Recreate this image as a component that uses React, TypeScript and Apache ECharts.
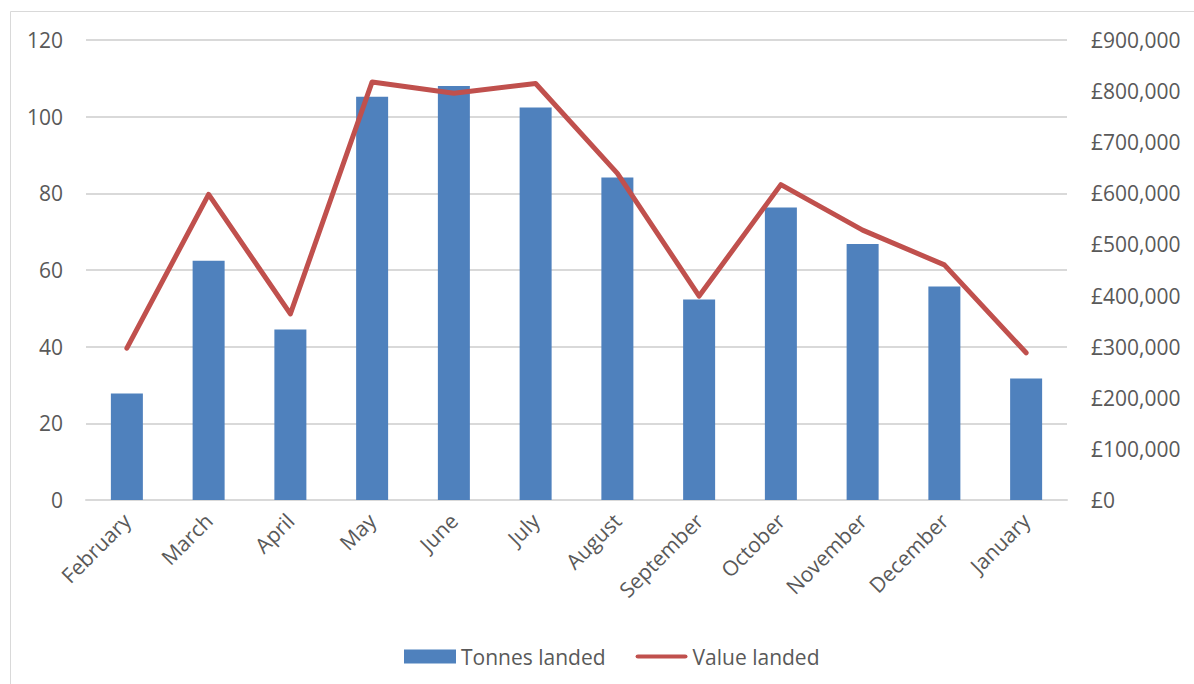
import React, { useEffect, useRef } from "react";
import * as echarts from "echarts";

const months = ["February", "March", "April", "May", "June", "July", "August", "September", "October", "November", "December", "January"];
const tonnesLanded = [27.8, 62.4, 44.5, 105.2, 108, 102.4, 84.1, 52.3, 76.3, 66.8, 55.7, 31.7];
const valueLanded = [297000, 598000, 364000, 818000, 796000, 815000, 639000, 399000, 617000, 528000, 460000, 288000];

const FONT = "'Open Sans', 'Noto Sans', sans-serif";
const TEXT = "#595959";

export default function App() {
  const ref = useRef<HTMLDivElement>(null);
  useEffect(() => {
    if (!ref.current) return;
    const chart = echarts.init(ref.current, undefined, { renderer: "svg" });
    chart.setOption({
      animation: false,
      backgroundColor: "#ffffff",
      textStyle: { fontFamily: FONT, color: TEXT },
      graphic: [
        {
          type: "rect",
          shape: { x: 10.5, y: 11.5, width: 1190, height: 690 },
          style: { fill: "none", stroke: "#d9d9d9", lineWidth: 1 },
          silent: true,
        },
      ],
      grid: { left: 86, right: 127, top: 40, bottom: 184, containLabel: false },
      legend: {
        left: 399,
        top: 641,
        itemWidth: 52,
        itemHeight: 14,
        itemGap: 30,
        textStyle: { fontFamily: FONT, fontSize: 21, color: TEXT },
        data: [
          { name: "Tonnes landed", icon: "rect" },
          {
            name: "Value landed",
            icon: "path://M0,0 M1.5,5 L50.5,5 Q53,5 53,7 Q53,9 50.5,9 L1.5,9 Q-1,9 -1,7 Q-1,5 1.5,5 Z M0,14",
          },
        ],
      },
      xAxis: {
        type: "category",
        data: months,
        axisLine: { show: true, lineStyle: { color: "#d9d9d9", width: 2 } },
        axisTick: { show: false },
        axisLabel: {
          rotate: 45,
          interval: 0,
          margin: 17,
          fontFamily: FONT,
          fontSize: 21,
          color: TEXT,
        },
      },
      yAxis: [
        {
          type: "value",
          min: 0,
          max: 120,
          interval: 20,
          axisLine: { show: false },
          axisTick: { show: false },
          splitLine: { lineStyle: { color: "#d9d9d9", width: 2 } },
          axisLabel: { margin: 23, fontFamily: FONT, fontSize: 21, color: TEXT },
        },
        {
          type: "value",
          min: 0,
          max: 900000,
          interval: 100000,
          position: "right",
          axisLine: { show: false },
          axisTick: { show: false },
          splitLine: { show: false },
          axisLabel: {
            margin: 24,
            fontFamily: FONT,
            fontSize: 21,
            color: TEXT,
            formatter: (v: number) => "£" + v.toLocaleString("en-GB"),
          },
        },
      ],
      series: [
        {
          name: "Tonnes landed",
          type: "bar",
          yAxisIndex: 0,
          data: tonnesLanded,
          barWidth: 32,
          itemStyle: { color: "#4F81BD" },
        },
        {
          name: "Value landed",
          type: "line",
          yAxisIndex: 1,
          data: valueLanded,
          symbol: "none",
          lineStyle: { color: "#C0504D", width: 5, cap: "round", join: "round" },
          itemStyle: { color: "#C0504D" },
        },
      ],
    });
    return () => chart.dispose();
  }, []);
  return (
    <div
      ref={ref}
      style={{ position: "fixed", left: 0, top: 0, width: 1194, height: 684 }}
    />
  );
}
